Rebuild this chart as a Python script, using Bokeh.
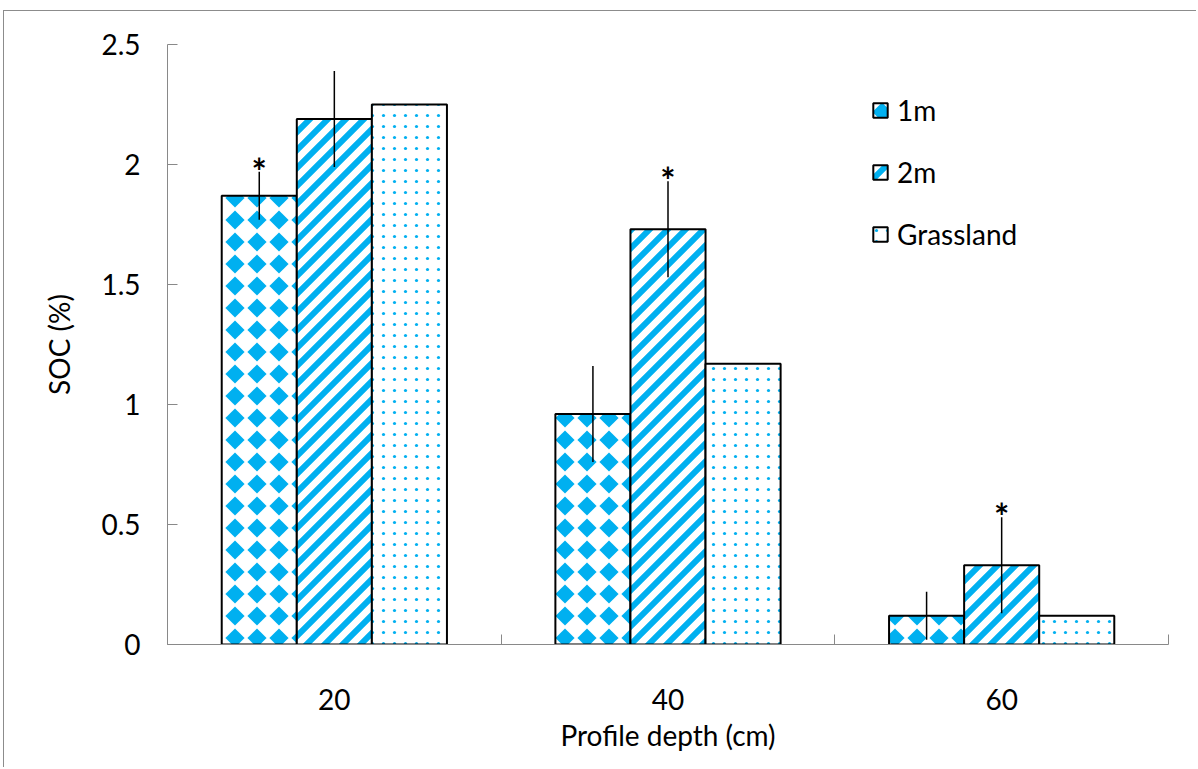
from bokeh.plotting import figure
from bokeh.models import (ColumnDataSource, Range1d, FixedTicker, NumeralTickFormatter,
                          Legend, LegendItem, CanvasTexture)
from bokeh.core.properties import value
from bokeh.embed import file_html
from bokeh.resources import INLINE

# ---- data ----
depths = [20, 40, 60]
series = ["1m", "2m", "Grassland"]
soc_1m = [1.87, 0.96, 0.12]
soc_2m = [2.19, 1.73, 0.33]
soc_grass = [2.25, 1.17, 0.12]
err_1m = [0.10, 0.20, 0.10]
err_2m = [0.20, 0.20, 0.20]
err_grass = [0.0, 0.0, 0.0]
sig_1m = ["*", "", ""]
sig_2m = ["", "*", "*"]
sig_grass = ["", "", ""]
y_ticks = [0, 0.5, 1, 1.5, 2, 2.5]

FONT = "Lato"
FS = "28px"
BLUE = "#00B0F0"
AXIS_GRAY = "#898989"

step = depths[1] - depths[0]
bounds = [d - step / 2 for d in depths] + [depths[-1] + step / 2]
bar_w = step * 0.225

p = figure(width=1193, height=757, output_backend="svg", toolbar_location=None,
           x_range=Range1d(bounds[0], bounds[-1]), y_range=Range1d(0, 2.5),
           min_border_left=163, min_border_right=29, min_border_top=33, min_border_bottom=124)
p.outline_line_color = None
p.xgrid.visible = False
p.ygrid.visible = False
p.styles = {"margin-left": "3px", "margin-top": "10px",
            "border-left": "1px solid #8c8c8c", "border-top": "1px solid #8c8c8c"}

tex_diamond = CanvasTexture(code="""
const s = 22, r = 9.6; const c = ctx.canvas; c.width = s; c.height = s;
ctx.fillStyle = '#00B0F0';
ctx.beginPath();
ctx.moveTo(s/2, s/2 - r); ctx.lineTo(s/2 + r, s/2);
ctx.lineTo(s/2, s/2 + r); ctx.lineTo(s/2 - r, s/2);
ctx.closePath(); ctx.fill();
""", repetition="repeat")
tex_stripe = CanvasTexture(code="""
const s = 18; const c = ctx.canvas; c.width = s; c.height = s;
ctx.strokeStyle = '#00B0F0'; ctx.lineWidth = 6;
ctx.beginPath();
ctx.moveTo(-s, 2*s); ctx.lineTo(2*s, -s);
ctx.moveTo(-s, s); ctx.lineTo(s, -s);
ctx.moveTo(0, 2*s); ctx.lineTo(2*s, 0);
ctx.stroke();
""", repetition="repeat")
tex_dot = CanvasTexture(code="""
const s = 11; const c = ctx.canvas; c.width = s; c.height = s;
ctx.fillStyle = '#00B0F0';
ctx.beginPath(); ctx.arc(s/2, s/2, 1.6, 0, 2*Math.PI); ctx.fill();
""", repetition="repeat")

styles = [
    dict(hatch_pattern=value("diam"), hatch_extra={"diam": tex_diamond}),
    dict(hatch_pattern=value("stripe"), hatch_extra={"stripe": tex_stripe}),
    dict(hatch_pattern=value("dots"), hatch_extra={"dots": tex_dot}),
]
vals = [soc_1m, soc_2m, soc_grass]
errs = [err_1m, err_2m, err_grass]
sigs = [sig_1m, sig_2m, sig_grass]
offsets = [-bar_w, 0, bar_w]

items = []
for name, v, e, s, off, st in zip(series, vals, errs, sigs, offsets, styles):
    xs = [d + off for d in depths]
    src = ColumnDataSource(dict(x=xs, top=v, hi=[a + b for a, b in zip(v, e)], sig=s))
    r = p.vbar(x="x", top="top", width=bar_w, bottom=0, source=src,
               fill_color="white", line_color="black", line_width=2,
               hatch_color=BLUE, **st)
    items.append(LegendItem(label=name, renderers=[r]))
    esrc = ColumnDataSource(dict(x=[x for x, er in zip(xs, e) if er > 0],
                                 lo=[a - b for a, b in zip(v, e) if b > 0],
                                 hi=[a + b for a, b in zip(v, e) if b > 0]))
    p.segment(x0="x", x1="x", y0="lo", y1="hi", source=esrc, line_color="black", line_width=1.5)
    p.text(x="x", y="hi", text="sig", source=src, text_font=value(FONT), text_font_size="36px",
           text_font_style="bold", text_align="center", text_baseline="alphabetic",
           y_offset=-1, text_color="black")

legend = Legend(items=items, location=(704, 393), orientation="vertical",
                label_text_font=FONT, label_text_font_size=FS, label_text_color="black",
                glyph_width=18, glyph_height=18, label_height=30, spacing=28,
                padding=0, margin=0, border_line_color=None, background_fill_alpha=0,
                label_standoff=8)
p.add_layout(legend, "center")

for ax in (p.xaxis[0], p.yaxis[0]):
    ax.axis_line_color = AXIS_GRAY
    ax.major_label_text_font = FONT
    ax.major_label_text_font_size = FS
    ax.major_label_text_color = "black"
    ax.axis_label_text_font = FONT
    ax.axis_label_text_font_size = FS
    ax.axis_label_text_font_style = "normal"
    ax.axis_label_text_color = "black"

xa = p.xaxis[0]
xa.ticker = FixedTicker(ticks=depths, minor_ticks=bounds)
xa.major_tick_line_color = None
xa.minor_tick_in = 10
xa.minor_tick_out = 0
xa.minor_tick_line_color = AXIS_GRAY
xa.major_label_standoff = 38
xa.axis_label = "Profile depth (cm)"
xa.axis_label_standoff = 5

ya = p.yaxis[0]
ya.ticker = FixedTicker(ticks=y_ticks)
ya.formatter = NumeralTickFormatter(format="0.[0]")
ya.major_tick_in = 10
ya.major_tick_out = 0
ya.major_tick_line_color = AXIS_GRAY
ya.minor_tick_line_color = None
ya.major_label_standoff = 27
ya.axis_label = "SOC (%)"
ya.axis_label_standoff = 22

open("out.html", "w").write(file_html(p, INLINE))
